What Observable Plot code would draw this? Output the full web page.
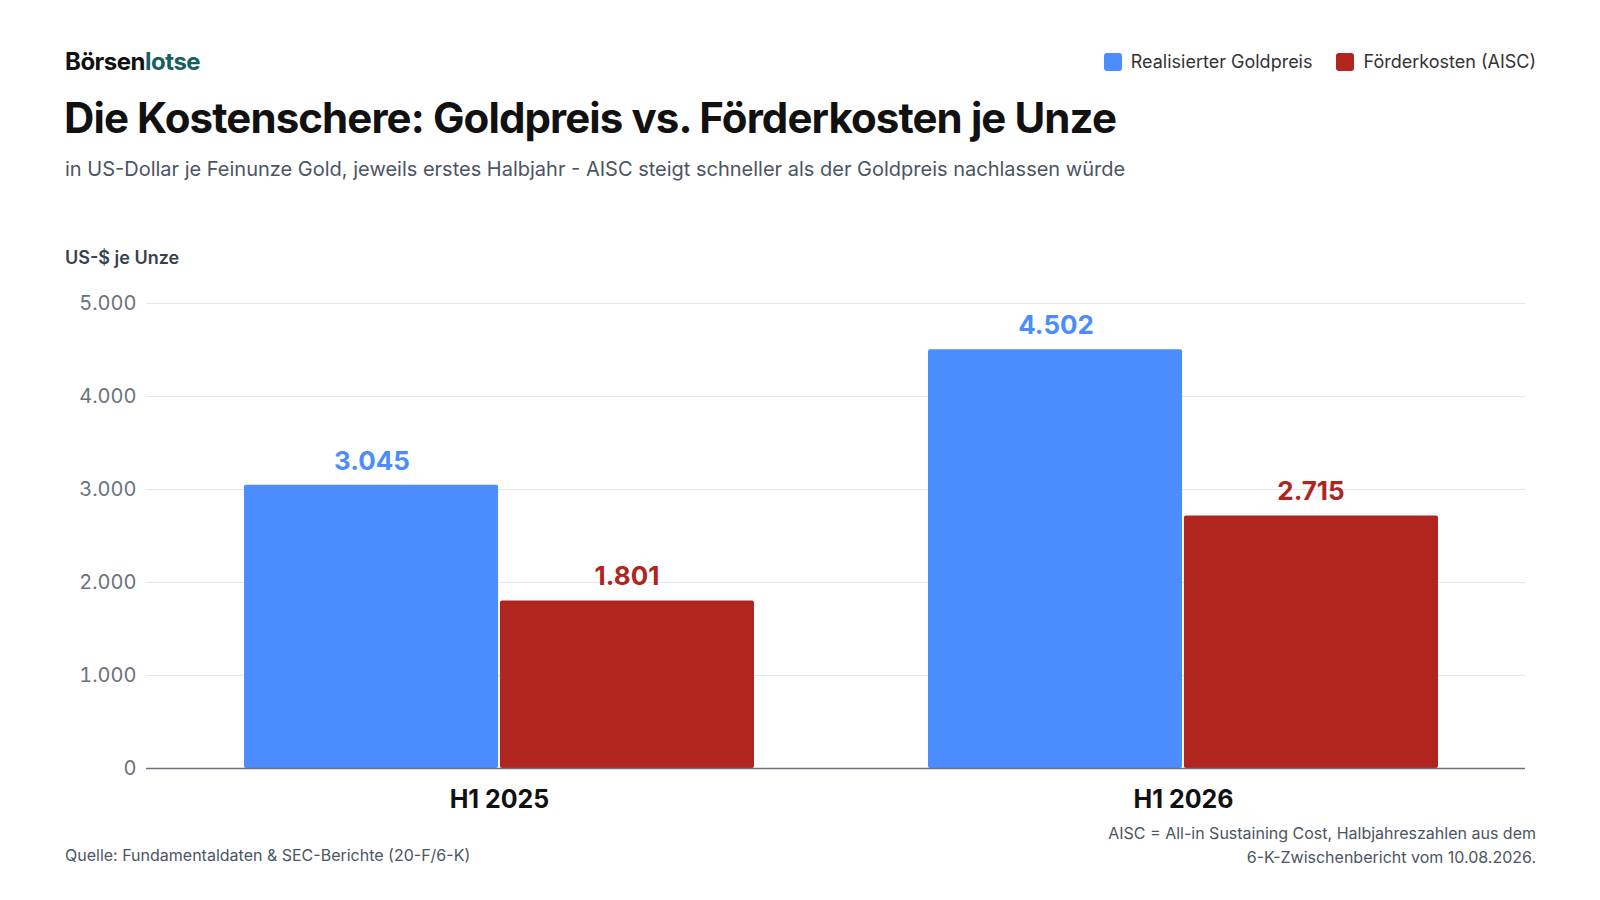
<!DOCTYPE html>
<html><head><meta charset="utf-8">
<script src="https://cdn.jsdelivr.net/npm/d3@7"></script>
<script src="https://cdn.jsdelivr.net/npm/@observablehq/plot@0.6"></script>
<style>
body{margin:0;background:#fff;font-family:Inter,"Noto Sans",sans-serif;color:#111}
#wrap{position:relative;width:1600px;height:900px}
.abs{position:absolute}
</style></head><body><div id="wrap">
<div class="abs" style="left:65px;top:47px;font-size:24px;font-weight:700;letter-spacing:-0.5px">Börsen<span style="color:#17605e">lotse</span></div>
<div class="abs" id="legend" style="right:64px;top:51px;font-size:18px;color:#333;display:flex;gap:24px"></div>
<div class="abs" style="left:64px;top:92px;font-size:42px;font-weight:700;letter-spacing:-0.9px">Die Kostenschere: Goldpreis vs. Förderkosten je Unze</div>
<div class="abs" style="left:65px;top:157px;font-size:20px;color:#4b5563">in US-Dollar je Feinunze Gold, jeweils erstes Halbjahr - AISC steigt schneller als der Goldpreis nachlassen würde</div>
<div class="abs" style="left:65px;top:247px;font-size:18px;font-weight:600;color:#374151">US-$ je Unze</div>
<div class="abs" id="chart" style="left:0;top:286px"></div>
<div class="abs" style="left:65px;top:845px;font-size:16px;color:#4b5563">Quelle: Fundamentaldaten &amp; SEC-Berichte (20-F/6-K)</div>
<div class="abs" style="right:64px;top:821px;font-size:16px;color:#4b5563;text-align:right;line-height:24px">AISC = All-in Sustaining Cost, Halbjahreszahlen aus dem<br>6-K-Zwischenbericht vom 10.08.2026.</div>
</div>
<script>
const periods=["H1 2025","H1 2026"];
const series=["Realisierter Goldpreis","Förderkosten (AISC)"];
const colors=["#4b8dff","#b0251e"];
const goldPrice=[3045,4502];
const aisc=[1801,2715];
const yTicks=[0,1000,2000,3000,4000,5000];
const fmt=d3.format(",");
const de=v=>fmt(v).replace(/,/g,".");
const gold=periods.map((p,i)=>({p,s:series[0],v:goldPrice[i]}));
const cost=periods.map((p,i)=>({p,s:series[1],v:aisc[i]}));
document.getElementById("legend").innerHTML=series.map((s,i)=>`<span style="display:flex;align-items:center;gap:9px"><span style="width:18px;height:18px;border-radius:3px;background:${colors[i]}"></span>${s}</span>`).join("");
const W=1600, mL=146, mR=75, pI=0.255, pO=0.135;
const band=(W-mL-mR)/(2-pI+2*pO)*(1-pI);
const half=band/2;
const chart=Plot.plot({
 width:W,height:527,marginLeft:mL,marginRight:mR,marginTop:17,marginBottom:45,
 style:{fontFamily:"Inter, sans-serif",background:"transparent"},
 x:{domain:periods,paddingInner:pI,paddingOuter:pO,align:0.53,label:null},
 y:{domain:[0,5000],label:null},
 color:{domain:series,range:colors},
 marks:[
  Plot.gridY(yTicks,{stroke:"#e5e7eb",strokeOpacity:1}),
  Plot.axisY(yTicks,{tickSize:0,tickPadding:10,tickFormat:de,fontSize:20,fill:"#6b7280",label:null}),
  Plot.axisX({tickSize:0,tickPadding:22,fontSize:25,fontWeight:700,fill:"#111",label:null}),
  Plot.barY(gold,{x:"p",y:"v",fill:"s",insetRight:half+1,rx:2}),
  Plot.barY(cost,{x:"p",y:"v",fill:"s",insetLeft:half+1,rx:2}),
  Plot.ruleY([0],{stroke:"#6b7280",strokeWidth:1.5}),
  Plot.text(gold,{x:"p",y:"v",text:d=>de(d.v),dx:-half/2,dy:-24,fill:"s",fontSize:26,fontWeight:700}),
  Plot.text(cost,{x:"p",y:"v",text:d=>de(d.v),dx:half/2,dy:-24,fill:"s",fontSize:26,fontWeight:700})
 ]});
document.getElementById("chart").appendChild(chart);
</script></body></html>
